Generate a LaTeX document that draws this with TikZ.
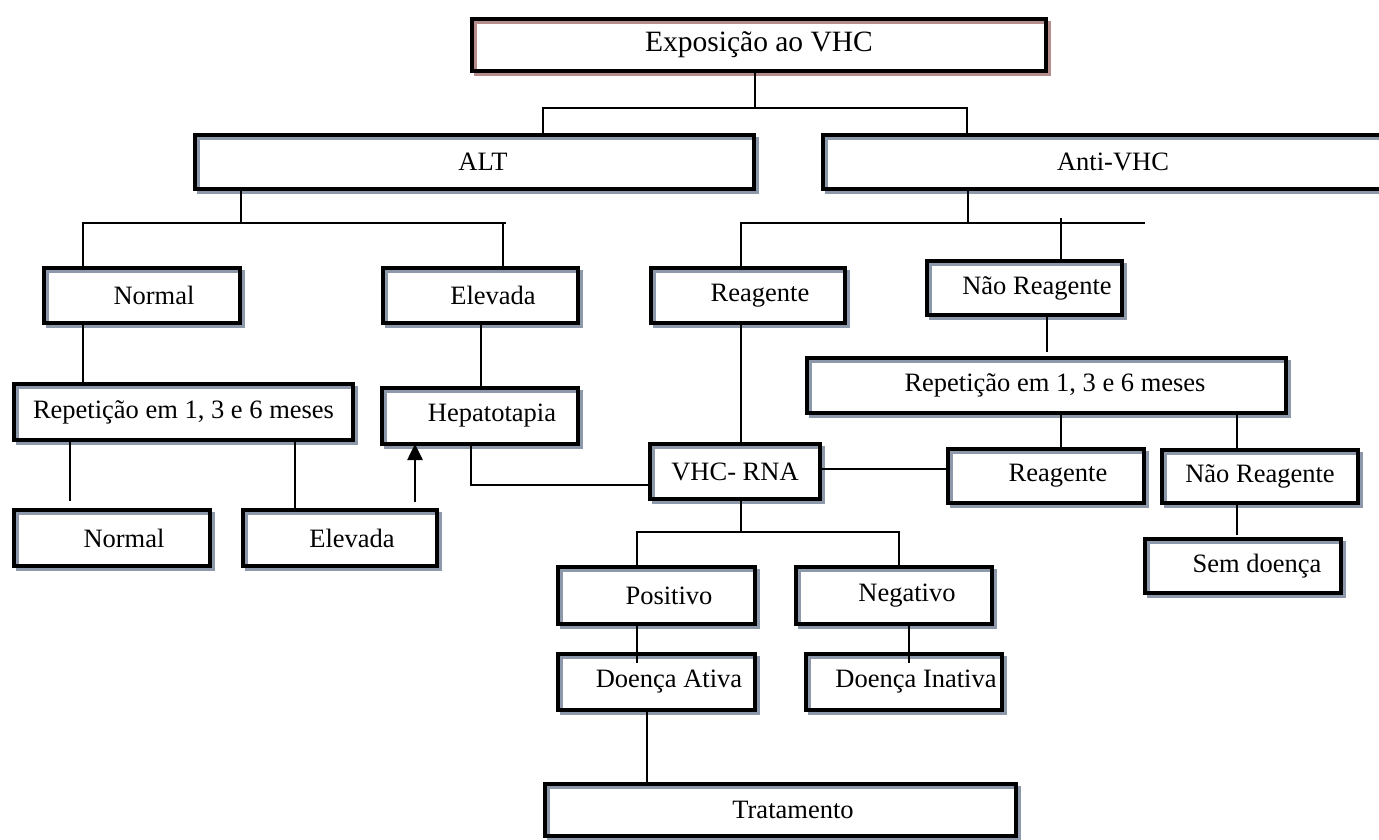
\documentclass[tikz,border=0pt]{standalone}
\usepackage{fontspec}
\setmainfont{Liberation Serif}
\usetikzlibrary{arrows.meta}
\definecolor{shb}{RGB}{141,153,171}
\definecolor{shr}{RGB}{181,141,141}
\begin{document}
\begin{tikzpicture}[x=1pt,y=-1pt,
  box/.style={draw=black, line width=4pt, inner sep=0pt,
    font=\fontsize{26.5}{30}\selectfont,
    preaction={fill=white},
    preaction={draw=#1, line width=3.5pt, transform canvas={shift={(3.5pt,-3.5pt)}}}},
  box/.default=shb,
  conn/.style={line width=1.6pt},
  arr/.style={line width=2.6pt, -{Triangle[length=16pt,width=15pt]}}]
\useasboundingbox (0,0) rectangle (1379,840);

% boxes
\node[box=shr, minimum width=574pt, minimum height=52pt, font=\fontsize{29.5}{33}\selectfont] (expo) at (759,45) {Exposição ao VHC};
\node[box, minimum width=559pt, minimum height=54pt] (alt) at (474.5,162) {\hspace*{17pt}ALT};
\node[box, minimum width=580pt, minimum height=54pt] (anti) at (1113,162) {Anti-VHC};
\node[box, minimum width=196pt, minimum height=55pt] (n1) at (142,295.5) {\hspace*{24pt}Normal};
\node[box, minimum width=195pt, minimum height=55pt] (e1) at (480.5,295.5) {\hspace*{25pt}Elevada};
\node[box, minimum width=194pt, minimum height=55pt] (r1) at (748,295.5) {\hspace*{24pt}Reagente};
\node[box, minimum width=195pt, minimum height=54pt] (nr1) at (1024.5,288) {\hspace*{25pt}Não Reagente};
\node[box, minimum width=339pt, minimum height=56pt] (rep1) at (183.5,412) {Repetição em 1, 3 e 6 meses};
\node[box, minimum width=196pt, minimum height=56pt] (hep) at (480,416) {\hspace*{24pt}Hepatotapia};
\node[box, minimum width=479pt, minimum height=55pt] (rep2) at (1046.5,385.5) {\hspace*{17pt}Repetição em 1, 3 e 6 meses};
\node[box, minimum width=170pt, minimum height=55pt] (vhc) at (735,471.5) {VHC- RNA};
\node[box, minimum width=196pt, minimum height=54pt] (rg2) at (1046,476) {\hspace*{24pt}Reagente};
\node[box, minimum width=196pt, minimum height=53pt] (nr2) at (1260,476.5) {Não Reagente};
\node[box, minimum width=196pt, minimum height=56pt] (n2) at (112,538) {\hspace*{24pt}Normal};
\node[box, minimum width=194pt, minimum height=56pt] (e2) at (340,538) {\hspace*{24pt}Elevada};
\node[box, minimum width=196pt, minimum height=54pt] (sd) at (1243,566) {\hspace*{28pt}Sem doença};
\node[box, minimum width=197pt, minimum height=57pt] (pos) at (656.5,595.5) {\hspace*{25pt}Positivo};
\node[box, minimum width=196pt, minimum height=57pt] (neg) at (894,595.5) {\hspace*{26pt}Negativo};
\node[box, minimum width=197pt, minimum height=56pt] (da) at (656.5,682) {\hspace*{25pt}Doença Ativa};
\node[box, minimum width=196pt, minimum height=56pt] (di) at (904,682) {\hspace*{24pt}Doença Inativa};
\node[box, minimum width=471pt, minimum height=52pt] (trat) at (780.5,810) {\hspace*{25pt}Tratamento};

% guide coordinates
\coordinate (a0) at (755,108);
\coordinate (aL) at (543,108);
\coordinate (aR) at (967,108);
\coordinate (b0) at (241,223);
\coordinate (bL) at (83,223);
\coordinate (bR) at (506,223);
\coordinate (bE) at (503,223);
\coordinate (c0) at (968,223);
\coordinate (cL) at (741,223);
\coordinate (cR) at (1145,223);
\coordinate (cN) at (1061,218);
\coordinate (xe) at (481,0);
\coordinate (f1) at (1047,352);
\coordinate (g1) at (70,501);
\coordinate (g2) at (295,0);
\coordinate (g3) at (415,502);
\coordinate (h1) at (471,485);
\coordinate (h2) at (0,469);
\coordinate (k1) at (1061,0);
\coordinate (k2) at (1237,535);
\coordinate (m0) at (741,532);
\coordinate (mL) at (637,532);
\coordinate (mR) at (899,532);
\coordinate (p1) at (637,663);
\coordinate (p2) at (909,663);
\coordinate (q1) at (647,0);

% connectors
\draw[conn] (expo.south -| a0) -- (a0);
\draw[conn] (alt.north -| aL) -- (aL) -- (aR) -- (anti.north -| aR);
\draw[conn] (alt.south -| b0) -- (b0);
\draw[conn] (n1.north -| bL) -- (bL) -- (bR);
\draw[conn] (bE) -- (e1.north -| bE);
\draw[conn] (anti.south -| c0) -- (c0);
\draw[conn] (r1.north -| cL) -- (cL) -- (cR);
\draw[conn] (cN) -- (nr1.north -| cN);
\draw[conn] (n1.south -| bL) -- (rep1.north -| bL);
\draw[conn] (e1.south -| xe) -- (hep.north -| xe);
\draw[conn] (r1.south -| cL) -- (vhc.north -| cL);
\draw[conn] (nr1.south -| f1) -- (f1);
\draw[conn] (rep1.south -| g1) -- (g1);
\draw[conn] (rep1.south -| g2) -- (e2.north -| g2);
\draw[arr] (g3) -- ([yshift=2pt]hep.south -| g3);
\draw[conn] (hep.south -| h1) -- (h1) -- (vhc.west |- h1);
\draw[conn] (vhc.east |- h2) -- (rg2.west |- h2);
\draw[conn] (rep2.south -| k1) -- (rg2.north -| k1);
\draw[conn] (rep2.south -| k2) -- (nr2.north -| k2);
\draw[conn] (nr2.south -| k2) -- (k2);
\draw[conn] (vhc.south -| m0) -- (m0);
\draw[conn] (pos.north -| mL) -- (mL) -- (mR) -- (neg.north -| mR);
\draw[conn] (pos.south -| p1) -- (p1);
\draw[conn] (neg.south -| p2) -- (p2);
\draw[conn] (da.south -| q1) -- (trat.north -| q1);
\end{tikzpicture}
\end{document}
